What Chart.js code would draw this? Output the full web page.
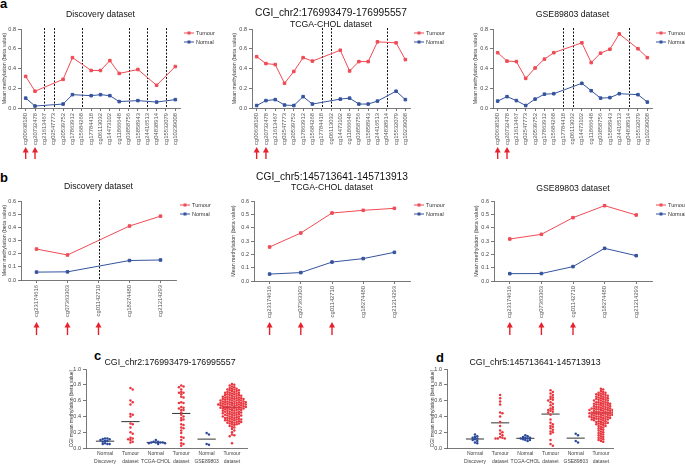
<!DOCTYPE html>
<html><head><meta charset="utf-8">
<script src="https://cdn.jsdelivr.net/npm/chart.js@4.4.1/dist/chart.umd.min.js"></script>
<style>
body{margin:0;width:685px;height:464px;position:relative;background:#fff;overflow:hidden;font-family:"Liberation Sans",Arial,sans-serif}
canvas{position:absolute;left:0;top:0}
.lt{position:absolute;font-weight:bold;font-size:13px;color:#000;line-height:13px}
</style></head><body>
<div class="lt" style="left:0px;top:-3px">a</div>
<div class="lt" style="left:0px;top:171px">b</div>
<div class="lt" style="left:94px;top:349px">c</div>
<div class="lt" style="left:436px;top:351px">d</div>
<canvas id="a1" width="685" height="464"></canvas>
<canvas id="a2" width="685" height="464"></canvas>
<canvas id="a3" width="685" height="464"></canvas>
<canvas id="b1" width="685" height="464"></canvas>
<canvas id="b2" width="685" height="464"></canvas>
<canvas id="b3" width="685" height="464"></canvas>
<canvas id="c1" width="685" height="464"></canvas>
<canvas id="d1" width="685" height="464"></canvas>
<script>
// ---------------- DATA ----------------
const probesA = ['cg00638180','cg20732478','cg21613467','cg02547773','cg20539752','cg17863912','cg15684268','cg17784418','cg06113032','cg14473102','cg11866648','cg03858756','cg15858943','cg24416513','cg04838914','cg15532079','cg10239008'];
const discA_tumour = [0.32,0.17,null,null,0.29,0.51,null,0.38,0.38,0.48,0.35,null,0.39,null,0.23,null,0.42];
const discA_normal = [0.10,0.02,null,null,0.04,0.135,null,0.125,0.135,0.125,0.065,null,0.075,null,0.06,null,0.085];
const discA_dashed = [2,3,6,11,13,15];
const tcgaA_tumour = [0.52,0.45,0.44,0.25,0.37,0.51,0.475,null,null,0.585,0.375,0.47,0.47,0.67,null,0.66,0.49];
const tcgaA_normal = [0.025,0.075,0.085,0.03,0.025,0.115,0.04,null,null,0.09,0.10,0.04,0.04,0.07,null,0.17,0.085];
const tcgaA_dashed = [7,8,14];
const gseA_tumour = [0.56,0.475,0.47,0.30,0.405,0.495,0.56,null,null,0.66,0.46,0.555,0.595,0.75,null,0.60,0.51];
const gseA_normal = [0.07,0.115,0.075,0.025,0.09,0.14,0.145,null,null,0.25,0.175,0.10,0.105,0.145,null,0.135,0.06];
const gseA_dashed = [7,8,14];
const arrowsA = [0,1];

const probesB = ['cg23174616','cg07363303','cg01142710','cg18274480','cg21214293'];
const discB_tumour = [0.235,0.19,null,0.41,0.485];
const discB_normal = [0.06,0.062,null,0.148,0.152];
const discB_dashed = [2];
const tcgaB_tumour = [0.255,0.36,0.51,0.53,0.545];
const tcgaB_normal = [0.052,0.063,0.142,0.168,0.215];
const gseB_tumour = [0.315,0.35,0.475,0.565,0.495];
const gseB_normal = [0.055,0.056,0.108,0.245,0.19];
const arrowsB = [0,1,2];

const groupLabels = [['Normal','Discovery'],['Tumour','dataset'],['Normal','TCGA-CHOL'],['Tumour','dataset'],['Normal','GSE89803'],['Tumour','dataset']];
const groupKind = ['normal','tumour','normal','tumour','normal','tumour'];

const c_normalDisc = [0.12,0.12,0.115,0.11,0.10,0.09,0.09,0.08,0.06,0.05,0.05,0.05];
const c_tumourDisc = [0.76,0.74,0.60,0.58,0.55,0.43,0.42,0.40,0.31,0.30,0.26,0.20,0.18,0.13,0.12,0.11,0.10,0.08,0.07];
const c_normalTcga = [0.10,0.08,0.08,0.07,0.07,0.07,0.07,0.06,0.06,0.05];
const c_tumourTcga = [0.79,0.78,0.77,0.74,0.71,0.70,0.70,0.68,0.65,0.64,0.58,0.57,0.57,0.52,0.51,0.50,0.48,0.48,0.45,0.42,0.40,0.38,0.36,0.35,0.30,0.29,0.26,0.25,0.22,0.19,0.14,0.13,0.10,0.06,0.05,0.03];
const c_normalGse = [0.19,0.17,0.05,0.04];
const c_tumourGse = [0.81,0.80,0.79,0.78,0.77,0.76,0.75,0.75,0.74,0.74,0.73,0.73,0.72,0.72,0.71,0.71,0.70,0.70,0.70,0.69,0.69,0.68,0.68,0.67,0.67,0.67,0.66,0.66,0.66,0.65,0.65,0.65,0.64,0.64,0.64,0.63,0.63,0.63,0.62,0.62,0.62,0.62,0.61,0.61,0.61,0.60,0.60,0.60,0.60,0.59,0.59,0.59,0.59,0.58,0.58,0.58,0.58,0.57,0.57,0.57,0.57,0.56,0.56,0.56,0.56,0.55,0.55,0.55,0.55,0.55,0.54,0.54,0.54,0.54,0.53,0.53,0.53,0.53,0.52,0.52,0.52,0.52,0.51,0.51,0.51,0.51,0.50,0.50,0.50,0.50,0.49,0.49,0.49,0.48,0.48,0.48,0.47,0.47,0.47,0.46,0.46,0.46,0.45,0.45,0.45,0.44,0.44,0.44,0.43,0.43,0.42,0.42,0.42,0.41,0.41,0.41,0.40,0.40,0.40,0.39,0.39,0.38,0.38,0.38,0.37,0.37,0.36,0.36,0.36,0.35,0.35,0.35,0.34,0.34,0.33,0.33,0.33,0.32,0.32,0.31,0.31,0.30,0.30,0.29,0.28,0.27,0.26,0.24,0.22,0.20,0.17,0.16,0.15,0.06];

const d_normalDisc = [0.17,0.15,0.14,0.13,0.12,0.11,0.10,0.09,0.07,0.06];
const d_tumourDisc = [0.67,0.63,0.59,0.55,0.45,0.44,0.40,0.33,0.28,0.22,0.20,0.18,0.16,0.14,0.13,0.12,0.12,0.12];
const d_normalTcga = [0.16,0.15,0.14,0.13,0.13,0.12,0.12,0.11,0.10,0.10,0.09];
const d_tumourTcga = [0.73,0.71,0.69,0.67,0.65,0.64,0.62,0.61,0.60,0.58,0.56,0.54,0.52,0.50,0.49,0.48,0.47,0.46,0.45,0.42,0.36,0.32,0.30,0.28,0.27,0.25,0.23,0.21,0.20,0.18,0.10,0.05,0.03];
const d_normalGse = [0.18,0.16,0.09,0.07];
const d_tumourGse = [0.75,0.74,0.72,0.71,0.70,0.70,0.69,0.68,0.68,0.67,0.67,0.66,0.66,0.65,0.65,0.64,0.64,0.63,0.63,0.62,0.62,0.61,0.61,0.60,0.60,0.60,0.59,0.58,0.58,0.58,0.57,0.57,0.56,0.56,0.56,0.55,0.55,0.55,0.54,0.54,0.53,0.53,0.53,0.52,0.52,0.52,0.51,0.51,0.50,0.50,0.50,0.50,0.49,0.49,0.49,0.48,0.48,0.48,0.48,0.47,0.47,0.47,0.46,0.46,0.46,0.45,0.45,0.45,0.45,0.44,0.44,0.44,0.44,0.43,0.43,0.43,0.43,0.42,0.42,0.42,0.42,0.41,0.41,0.41,0.40,0.40,0.40,0.40,0.39,0.39,0.39,0.38,0.38,0.38,0.37,0.37,0.37,0.36,0.36,0.36,0.35,0.35,0.34,0.34,0.33,0.33,0.32,0.32,0.31,0.31,0.30,0.30,0.29,0.28,0.28,0.27,0.26,0.25,0.24,0.23,0.22,0.21,0.20,0.19,0.18,0.17,0.16,0.15,0.14,0.13,0.12,0.11,0.10,0.09,0.08];

// ---------------- STYLE ----------------
const RED = '#ef4b55', BLUE = '#34539e', ARROW = '#e8202a';
const SRED = '#e8363f', SBLUE = '#2b4a9b';
const FONT = '"Liberation Sans", Arial, sans-serif';
const W = 685, H = 464;
Chart.defaults.font.family = FONT;
Chart.defaults.color = '#444';

function txt(ctx, s, x, y, size, opts = {}) {
  ctx.save();
  ctx.font = (opts.bold ? 'bold ' : '') + size + 'px ' + FONT;
  ctx.fillStyle = opts.color || '#222';
  ctx.textAlign = opts.align || 'center';
  ctx.textBaseline = 'middle';
  if (opts.rot) { ctx.translate(x, y); ctx.rotate(opts.rot); ctx.fillText(s, 0, 0); }
  else ctx.fillText(s, x, y);
  ctx.restore();
}

const decor = {
  id: 'decor',
  beforeDatasetsDraw(chart, args, o) {
    const ctx = chart.ctx, a = chart.chartArea, xs = chart.scales.x;
    ctx.save();
    ctx.strokeStyle = '#111'; ctx.lineWidth = 1; ctx.setLineDash([2, 1.5]);
    (o.dashed || []).forEach(i => {
      const x = Math.round(xs.getPixelForValue(i)) + 0.5;
      ctx.beginPath(); ctx.moveTo(x, a.top - 1); ctx.lineTo(x, a.bottom); ctx.stroke();
    });
    ctx.restore();
  },
  afterDraw(chart, args, o) {
    const ctx = chart.ctx, a = chart.chartArea, xs = chart.scales.x;
    const cx = o.cx != null ? o.cx : (a.left + a.right) / 2;
    (o.titles || []).forEach(t => txt(ctx, t[0], cx, t[1], t[2], {color: '#111'}));
    if (o.ytitle) txt(ctx, o.ytitle, a.left - (o.ytitleGap || 18), (a.top + a.bottom) / 2, o.ytitleSize || 5.3, {rot: -Math.PI / 2, color: '#333'});
    (o.arrows || []).forEach(i => {
      const x = xs.getPixelForValue(i), [t, b] = o.arrowY;
      ctx.save();
      ctx.strokeStyle = ARROW; ctx.fillStyle = ARROW; ctx.lineWidth = 1.4;
      ctx.beginPath(); ctx.moveTo(x, b); ctx.lineTo(x, t + 4); ctx.stroke();
      ctx.beginPath(); ctx.moveTo(x, t); ctx.lineTo(x - 3, t + 5.5); ctx.lineTo(x + 3, t + 5.5); ctx.closePath(); ctx.fill();
      ctx.restore();
    });
    if (o.legend) {
      const x0 = a.right + 4;
      chart.data.datasets.forEach((ds, k) => {
        const y = a.top + 4 + k * 9;
        ctx.save();
        ctx.strokeStyle = ds.borderColor; ctx.fillStyle = ds.borderColor; ctx.lineWidth = 1;
        ctx.beginPath(); ctx.moveTo(x0, y); ctx.lineTo(x0 + 10, y); ctx.stroke();
        ctx.fillRect(x0 + 3.5, y - 1.5, 3, 3);
        ctx.restore();
        txt(ctx, ds.label, x0 + 12, y, 5.5, {align: 'left', color: '#333'});
      });
    }
  }
};

function axisCommon() {
  return {
    grid: {display: true, drawOnChartArea: false, drawTicks: true, tickLength: 3, color: '#555', lineWidth: 0.8},
    border: {display: true, color: '#555', width: 0.8}
  };
}

function lineChart(id, cfg) {
  const A = cfg.area, YW = 18, XH = 40;
  new Chart(document.getElementById(id), {
    type: 'line',
    data: {
      labels: cfg.labels,
      datasets: [
        {label: 'Tumour', data: cfg.tumour, borderColor: RED, backgroundColor: RED, borderWidth: 1, pointStyle: 'rect', pointRadius: 1.8, spanGaps: true, tension: 0},
        {label: 'Normal', data: cfg.normal, borderColor: BLUE, backgroundColor: BLUE, borderWidth: 1, pointStyle: 'rect', pointRadius: 1.8, spanGaps: true, tension: 0}
      ]
    },
    options: {
      responsive: false, animation: false, devicePixelRatio: 1,
      layout: {padding: {left: A.l - YW, top: A.t, right: W - A.r, bottom: H - A.b - XH}},
      plugins: {legend: {display: false}, tooltip: {enabled: false},
        decor: {titles: cfg.titles, dashed: cfg.dashed, arrows: cfg.arrows, arrowY: cfg.arrowY, legend: true,
                ytitle: 'Mean methylation (beta value)', ytitleGap: cfg.ytitleGap || 17}},
      scales: {
        x: Object.assign(axisCommon(), {
          type: 'category', offset: true,
          ticks: {autoSkip: false, minRotation: 90, maxRotation: 90, font: {size: 5.8}, color: '#555', padding: 2},
          afterFit(s) { s.height = XH; }
        }),
        y: Object.assign(axisCommon(), {
          min: 0, max: cfg.ymax,
          ticks: {stepSize: cfg.ystep, font: {size: 5.5}, color: '#444', padding: 2, callback: v => v.toFixed(1)},
          afterFit(s) { s.width = YW; }
        })
      }
    },
    plugins: [decor]
  });
}

lineChart('a1', {labels: probesA, tumour: discA_tumour, normal: discA_normal, dashed: discA_dashed, arrows: arrowsA,
  area: {l: 21, t: 29, r: 180, b: 108}, ymax: 0.8, ystep: 0.2, arrowY: [147, 159], titles: [['Discovery dataset', 15, 8.7]], ytitleGap: 16});
lineChart('a2', {labels: probesA, tumour: tcgaA_tumour, normal: tcgaA_normal, dashed: tcgaA_dashed, arrows: arrowsA,
  area: {l: 252, t: 29, r: 410, b: 108}, ymax: 0.8, ystep: 0.2, arrowY: [147, 159], titles: [['CGI_chr2:176993479-176995557', 13, 10.2], ['TCGA-CHOL dataset', 24.5, 8.7]]});
lineChart('a3', {labels: probesA, tumour: gseA_tumour, normal: gseA_normal, dashed: gseA_dashed, arrows: arrowsA,
  area: {l: 493, t: 29, r: 652, b: 108}, ymax: 0.8, ystep: 0.2, arrowY: [147, 159], titles: [['GSE89803 dataset', 15, 8.7]]});
lineChart('b1', {labels: probesB, tumour: discB_tumour, normal: discB_normal, dashed: discB_dashed, arrows: arrowsB,
  area: {l: 21, t: 201, r: 176, b: 280}, ymax: 0.6, ystep: 0.1, arrowY: [322, 335], titles: [['Discovery dataset', 187, 8.7]], ytitleGap: 16});
lineChart('b2', {labels: probesB, tumour: tcgaB_tumour, normal: tcgaB_normal, dashed: [], arrows: arrowsB,
  area: {l: 254, t: 201, r: 410, b: 281}, ymax: 0.6, ystep: 0.1, arrowY: [322, 335], titles: [['CGI_chr5:145713641-145713913', 177, 10.2], ['TCGA-CHOL dataset', 188, 8.7]], ytitleGap: 20});
lineChart('b3', {labels: probesB, tumour: gseB_tumour, normal: gseB_normal, dashed: [], arrows: arrowsB,
  area: {l: 494, t: 201, r: 652, b: 281}, ymax: 0.6, ystep: 0.1, arrowY: [322, 335], titles: [['GSE89803 dataset', 189, 8.7]]});

// ---------------- DOT PLOTS ----------------
function swarm(vals, pxY, pxX, d) {
  const order = vals.map((v, i) => i).sort((p, q) => vals[q] - vals[p]);
  const placed = [], off = new Array(vals.length);
  for (const i of order) {
    const y = vals[i] * pxY;
    let x = 0;
    for (let s = 0; s < 200; s++) {
      x = s === 0 ? 0 : ((s % 2) ? 1 : -1) * Math.ceil(s / 2) * d * 0.5;
      if (!placed.some(p => Math.hypot(p.x - x, p.y - y) < d)) break;
    }
    placed.push({x, y});
    off[i] = x / pxX;
  }
  return off;
}

function dotChart(id, groups, cfg) {
  const A = cfg.area, YW = 18, XH = 16;
  const pxY = A.b - A.t, pxX = (A.r - A.l) / (cfg.xmax - cfg.xmin);
  const datasets = [];
  groups.forEach((vals, g) => {
    const off = swarm(vals, pxY, pxX, 2.3);
    const col = groupKind[g] === 'normal' ? SBLUE : SRED;
    datasets.push({type: 'scatter', data: vals.map((v, i) => ({x: g + off[i], y: v})),
      backgroundColor: col, borderColor: col, pointRadius: 1.25, borderWidth: 0});
  });
  groups.forEach((vals, g) => {
    const m = vals.reduce((s, v) => s + v, 0) / vals.length;
    datasets.push({type: 'line', data: [{x: g - 0.36, y: m}, {x: g + 0.36, y: m}],
      borderColor: '#333', borderWidth: 1, pointRadius: 0});
  });
  new Chart(document.getElementById(id), {
    type: 'scatter',
    data: {datasets},
    options: {
      responsive: false, animation: false, devicePixelRatio: 1,
      layout: {padding: {left: A.l - YW, top: A.t, right: W - A.r, bottom: Math.max(0, H - A.b - XH)}},
      plugins: {legend: {display: false}, tooltip: {enabled: false},
        decor: {titles: cfg.titles, cx: cfg.cx, ytitle: 'CGI mean methylation (beta value)', ytitleGap: 14, ytitleSize: 5}},
      scales: {
        x: {type: 'linear', min: cfg.xmin, max: cfg.xmax,
          grid: {display: false, drawTicks: false, tickLength: 0}, border: {display: true, color: '#555', width: 0.8},
          afterBuildTicks(s) { s.ticks = groupLabels.map((l, i) => ({value: i})); },
          ticks: {autoSkip: false, maxRotation: 0, font: {size: 5, lineHeight: 1.6}, color: '#444', padding: 2,
            callback: (v, i) => groupLabels[i]},
          afterFit(s) { s.height = XH; }
        },
        y: Object.assign(axisCommon(), {min: 0, max: 1,
          ticks: {stepSize: 0.2, font: {size: 5.5}, color: '#444', padding: 2, callback: v => v.toFixed(1)},
          afterFit(s) { s.width = YW; }
        })
      }
    },
    plugins: [decor]
  });
}

dotChart('c1', [c_normalDisc, c_tumourDisc, c_normalTcga, c_tumourTcga, c_normalGse, c_tumourGse],
  {area: {l: 86, t: 369, r: 247, b: 448}, xmin: -0.75, xmax: 5.59, titles: [['CGI_chr2:176993479-176995557', 363, 8.8]], cx: 170});
dotChart('d1', [d_normalDisc, d_tumourDisc, d_normalTcga, d_tumourTcga, d_normalGse, d_tumourGse],
  {area: {l: 447, t: 369, r: 613, b: 448}, xmin: -1.11, xmax: 5.48, titles: [['CGI_chr5:145713641-145713913', 363, 8.8]], cx: 535});
</script>
</body></html>
